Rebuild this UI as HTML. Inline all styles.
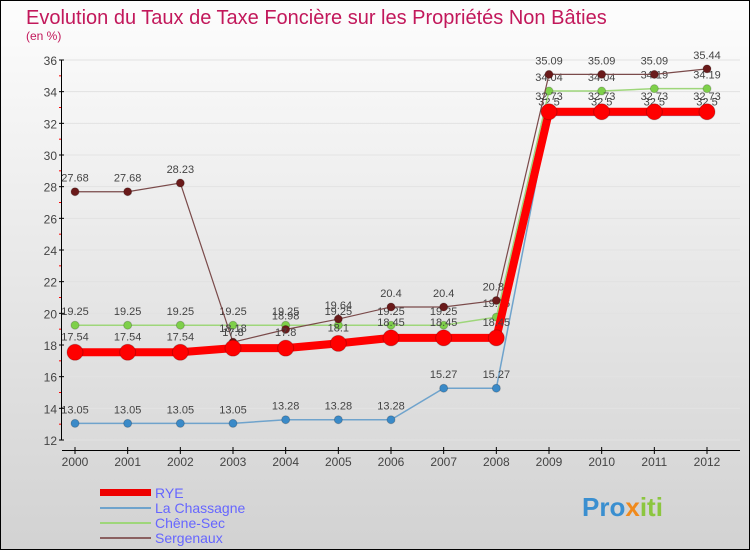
<!DOCTYPE html>
<html><head><meta charset="utf-8"><style>
body{margin:0;width:750px;height:550px;overflow:hidden}
svg{display:block;font-family:"Liberation Sans",sans-serif}
</style></head><body>
<svg id="c" width="750" height="550">
<defs><linearGradient id="bg" x1="0" y1="0" x2="0" y2="1"><stop offset="0" stop-color="#fdfdfd"/><stop offset="1" stop-color="#d2d2d2"/></linearGradient></defs>
<rect x="0.5" y="0.5" width="749" height="549" fill="url(#bg)" stroke="#000"/>
<text x="26" y="24" font-size="20" fill="#c2185b">Evolution du Taux de Taxe Foncière sur les Propriétés Non Bâties</text>
<text x="26" y="40" font-size="12" fill="#c2185b">(en %)</text>
<g id="axes"></g><g id="series"></g>
<g>
<rect x="100" y="489" width="51" height="7" fill="#e00"/>
<text x="155" y="498" font-size="14" fill="#66f">RYE</text>
<rect x="100" y="507" width="51" height="2" fill="#6fa3cc"/>
<text x="155" y="513" font-size="14" fill="#66f">La Chassagne</text>
<rect x="100" y="522" width="51" height="2" fill="#9ed67a"/>
<text x="155" y="528" font-size="14" fill="#66f">Chêne-Sec</text>
<rect x="100" y="537" width="51" height="2" fill="#8a6060"/>
<text x="155" y="543" font-size="14" fill="#66f">Sergenaux</text>
</g>
<text x="582" y="516" font-size="26" font-weight="bold" fill="#3a8fd0">Pro<tspan fill="#f08a1c">x</tspan><tspan fill="#8cc63f">iti</tspan></text>
</svg>
<script>
const years=[2000,2001,2002,2003,2004,2005,2006,2007,2008,2009,2010,2011,2012];
const yTicks=[12,14,16,18,20,22,24,26,28,30,32,34,36];
const rye=[17.54,17.54,17.54,17.8,17.8,18.1,18.45,18.45,18.45,32.73,32.73,32.73,32.73];
const laChassagne=[13.05,13.05,13.05,13.05,13.28,13.28,13.28,15.27,15.27,32.5,32.5,32.5,32.5];
const cheneSec=[19.25,19.25,19.25,19.25,19.25,19.25,19.25,19.25,19.76,34.04,34.04,34.19,34.19];
const sergenaux=[27.68,27.68,28.23,18.18,18.98,19.64,20.4,20.4,20.81,35.09,35.09,35.09,35.44];
const NS="http://www.w3.org/2000/svg";
const X=i=>75+i*(707-75)/(years.length-1);
const Y=v=>440-(v-12)*(380/24);
function mk(t,a,p,txt){const e=document.createElementNS(NS,t);for(const k in a)e.setAttribute(k,a[k]);if(txt!==undefined)e.textContent=txt;p.appendChild(e);return e;}
const ax=document.getElementById('axes');
yTicks.forEach(v=>{
 const g=mk('line',{x1:62,x2:740,y1:Y(v),y2:Y(v),stroke:'#e2e2e2'},ax);
 
 
 mk('line',{x1:59,x2:64,y1:Y(v),y2:Y(v),stroke:'#000'},ax);
 if(v<36)mk('line',{x1:59,x2:62,y1:Y(v+1),y2:Y(v+1),stroke:'#f00'},ax);
 const t=mk('text',{x:57,y:Y(v)+5,'font-size':12,fill:'#444','text-anchor':'end'},ax,String(v));
 
 
});
mk('line',{x1:61.5,x2:61.5,y1:60,y2:440,stroke:'#000'},ax);
mk('line',{x1:62,x2:740,y1:450.5,y2:450.5,stroke:'#000'},ax);
years.forEach((y,i)=>{
 mk('line',{x1:X(i),x2:X(i),y1:447,y2:454,stroke:'#000'},ax);
 const t=mk('text',{x:X(i),y:466,'font-size':12,fill:'#444','text-anchor':'middle'},ax,String(y));
 
 
});
const sg=document.getElementById('series');
function draw(name,vals,color,w,r,pc,dy){
 const g=mk('g',{},sg);
 
 
 mk('polyline',{points:vals.map((v,i)=>X(i)+','+Y(v)).join(' '),fill:'none',stroke:color,'stroke-width':w},g);
 vals.forEach((v,i)=>{
  const c=mk('circle',{cx:X(i),cy:Y(v),r:r,fill:pc,stroke:'rgba(0,0,0,0.2)'},g);
  
  
  const t=mk('text',{x:X(i),y:Y(v)+dy,'font-size':11,fill:'#444','text-anchor':'middle'},g,String(v));
  
  
 });
}
draw('la-chassagne',laChassagne,'#6fa3cc',1.5,4,'#3a8ac8',-10);
draw('chene-sec',cheneSec,'#9ed67a',1.5,4,'#7ed04a',-10);
draw('sergenaux',sergenaux,'#7a4a4a',1.2,4,'#6a1a1a',-10);
draw('rye',rye,'#f00',8,8,'#f00',-12);
</script>
</body></html>
